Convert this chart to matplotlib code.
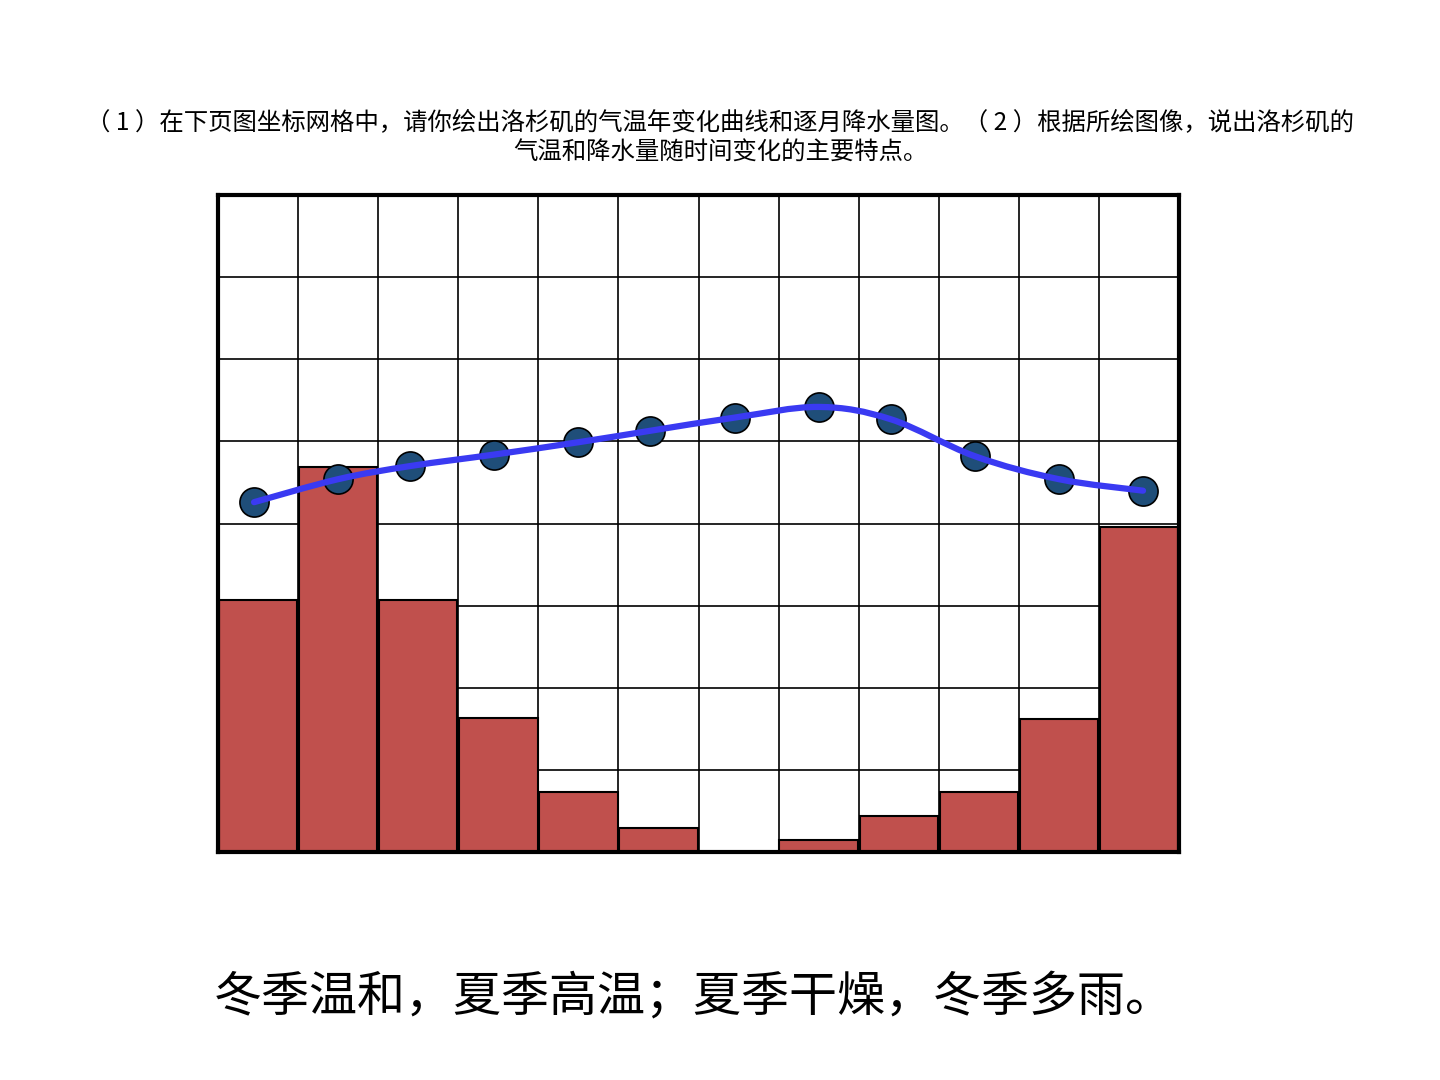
import matplotlib
matplotlib.use("Agg")
import matplotlib.pyplot as plt
import numpy as np
from matplotlib.path import Path
from matplotlib.patches import PathPatch

plt.rcParams['font.family'] = ['Noto Sans CJK SC', 'DejaVu Sans']

# Data (grid units: 12 month columns x 8 rows)
months = list(range(1, 13))
precip = [3.07, 4.69, 3.07, 1.63, 0.73, 0.29, 0.0, 0.15, 0.44, 0.73, 1.62, 3.96]
temp_x = [0.45, 1.50, 2.40, 3.45, 4.50, 5.40, 6.45, 7.50, 8.40, 9.45, 10.50, 11.55]
temp = [4.26, 4.54, 4.70, 4.84, 4.99, 5.13, 5.29, 5.42, 5.27, 4.82, 4.54, 4.40]

title = ("（ 1 ）在下页图坐标网格中，请你绘出洛杉矶的气温年变化曲线和逐月降水量图。（ 2 ）根据所绘图像，说出洛杉矶的\n"
         "气温和降水量随时间变化的主要特点。")
answer = "冬季温和，夏季高温；夏季干燥，冬季多雨。"

fig = plt.figure(figsize=(14.4, 10.8), dpi=100)
ax = fig.add_axes([0.1514, 0.2111, 0.6674, 0.6083])
ax.set_xlim(0, 12)
ax.set_ylim(0, 8)

# grid
for i in range(1, 12):
    ax.axvline(i, color='black', lw=1.2, zorder=1)
for j in range(1, 8):
    ax.axhline(j, color='black', lw=1.2, zorder=1)

# bars
ax.bar(np.arange(len(months)) + 0.5, precip, width=0.98, color='#c0504d',
       edgecolor='black', linewidth=1.5, zorder=2)

# markers
ax.scatter(temp_x, temp, s=440, color='#1f4e79', edgecolors='black',
           linewidths=1.2, zorder=3)

# smooth line (Catmull-Rom as cubic Bezier segments)
pts = np.column_stack([temp_x, temp])
verts = [tuple(pts[0])]
codes = [Path.MOVETO]
n = len(pts)
for i in range(n - 1):
    p0 = pts[i - 1] if i > 0 else pts[i]
    p1 = pts[i]
    p2 = pts[i + 1]
    p3 = pts[i + 2] if i + 2 < n else pts[i + 1]
    c1 = p1 + (p2 - p0) / 6.0
    c2 = p2 - (p3 - p1) / 6.0
    verts += [tuple(c1), tuple(c2), tuple(p2)]
    codes += [Path.CURVE4] * 3
ax.add_patch(PathPatch(Path(verts, codes), facecolor='none', edgecolor='#3a3af2',
                       lw=4.5, capstyle='round', joinstyle='round', zorder=4))

ax.set_xticks([])
ax.set_yticks([])
for s in ax.spines.values():
    s.set_linewidth(3)
    s.set_color('black')
    s.set_zorder(5)

fig.text(0.5, 0.873, title, ha='center', va='center', fontsize=17.6, linespacing=1.25)
fig.text(0.4815, 0.077, answer, ha='center', va='center', fontsize=34.6)

fig.savefig('out.png', dpi=100)
